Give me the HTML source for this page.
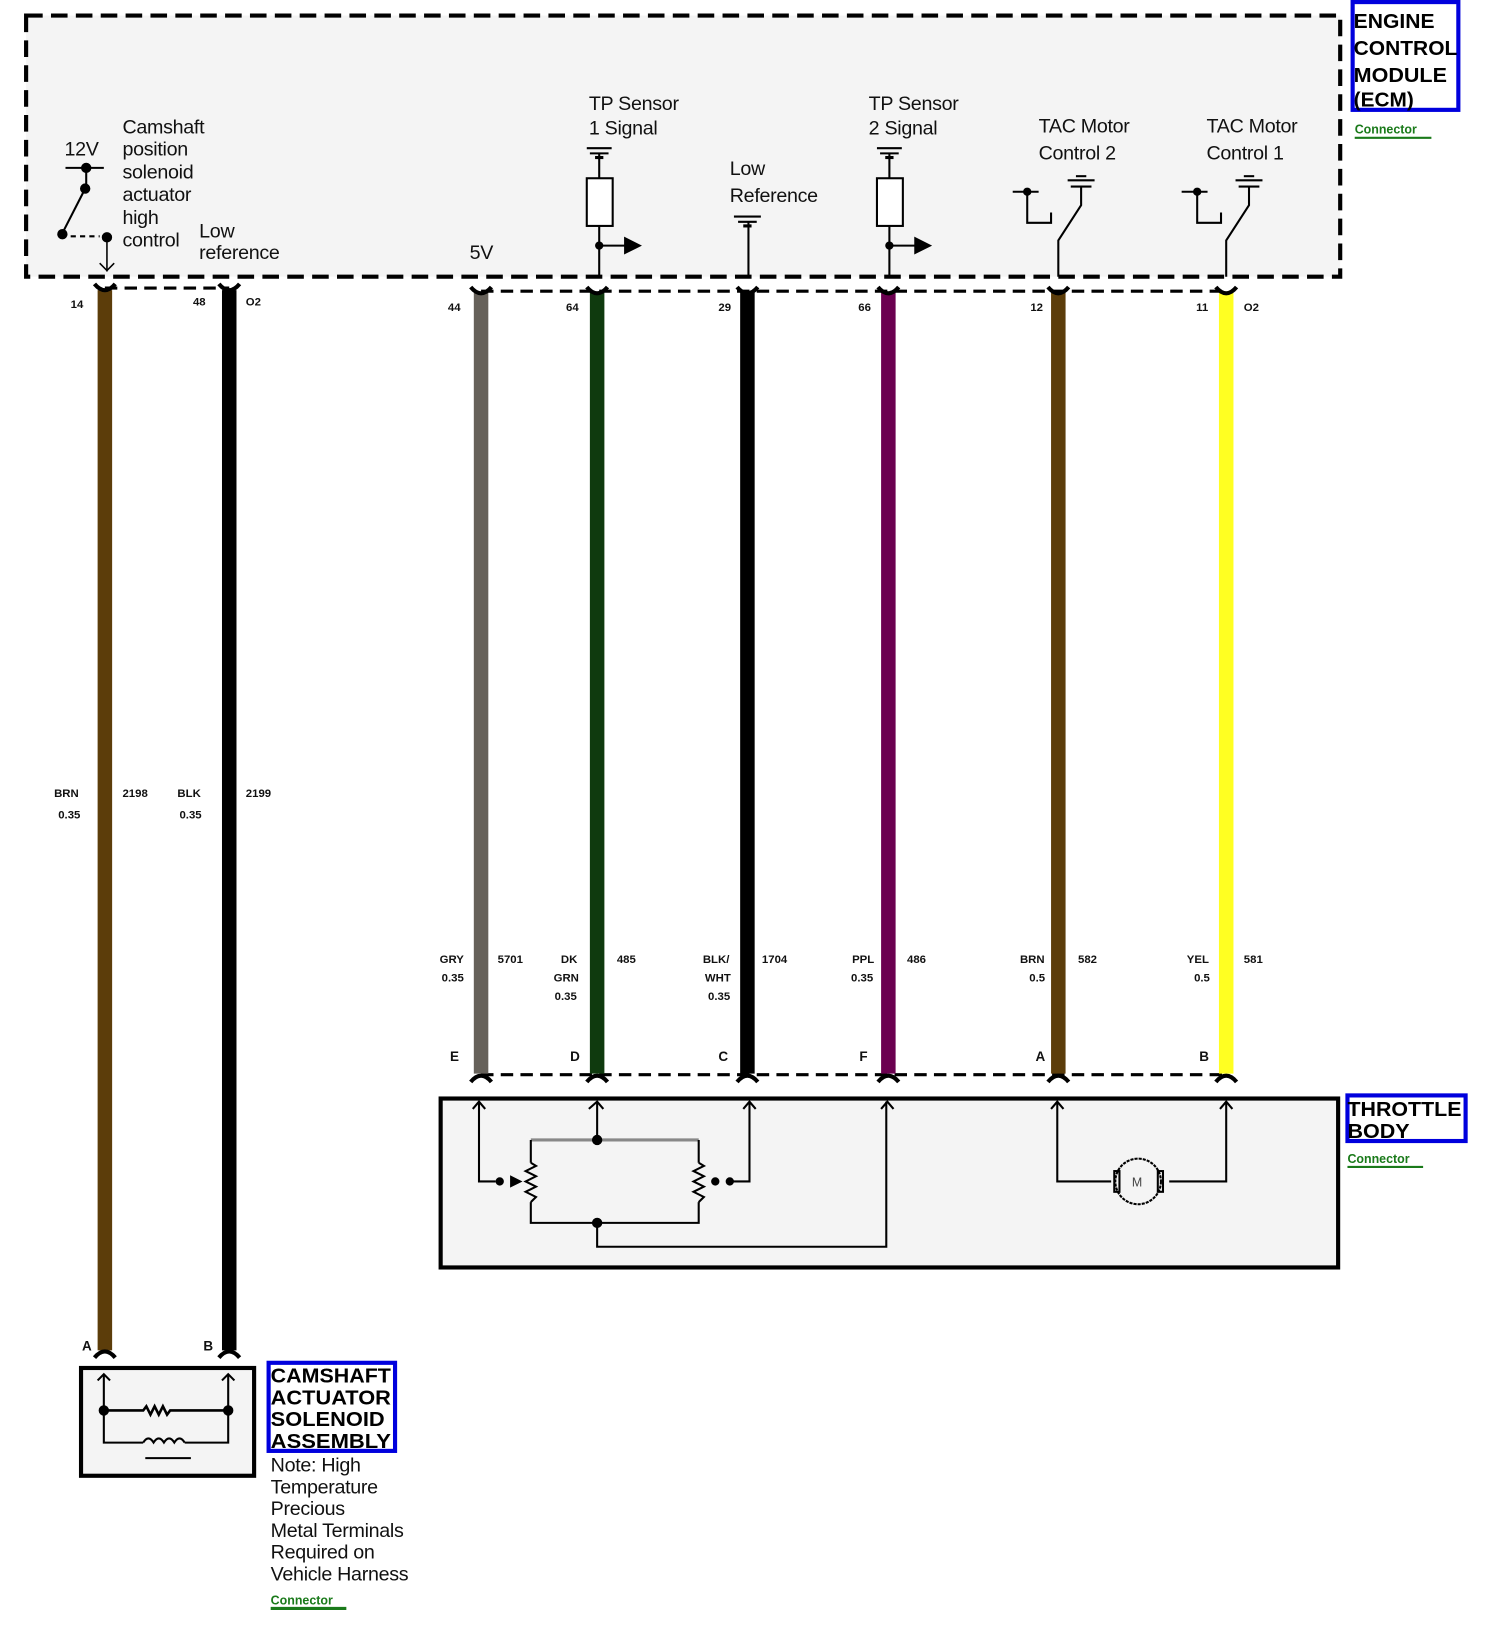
<!DOCTYPE html>
<html><head><meta charset="utf-8"><style>
html,body{margin:0;padding:0;background:#fff;}
svg{display:block;}
text{font-family:"Liberation Sans",sans-serif;}
.d{font-size:19px;fill:#111;letter-spacing:-0.3px;font-weight:500;}
.s{font-size:11px;font-weight:bold;fill:#111;}
.p{font-size:13px;font-weight:bold;fill:#111;}
.t{font-size:20px;font-weight:bold;fill:#000;}
.c{font-size:12px;fill:#1a7a1a;font-weight:bold;}
</style></head><body>
<svg width="1500" height="1625" viewBox="0 0 1447 1568" xmlns="http://www.w3.org/2000/svg">
<rect x="25" y="15" width="1268" height="252" fill="#f4f4f4" stroke="#000" stroke-width="4" stroke-dasharray="16,8"/>
<g stroke="#000" stroke-width="3" stroke-dasharray="12,7" fill="none">
<line x1="101" y1="278" x2="221" y2="278"/>
<line x1="464" y1="281" x2="1183" y2="281"/>
<line x1="464" y1="1037" x2="1183" y2="1037"/>
</g>
<g stroke-width="14">
<line x1="101" y1="280" x2="101" y2="1303" stroke="#5c3d0a"/>
<line x1="221" y1="280" x2="221" y2="1303" stroke="#000"/>
<line x1="464" y1="282" x2="464" y2="1036" stroke="#66615a"/>
<line x1="576" y1="282" x2="576" y2="1036" stroke="#0f3a0e"/>
<line x1="721" y1="282" x2="721" y2="1036" stroke="#000"/>
<line x1="857" y1="282" x2="857" y2="1036" stroke="#6b0050"/>
<line x1="1021" y1="282" x2="1021" y2="1036" stroke="#5c3d0a"/>
<line x1="1183" y1="282" x2="1183" y2="1036" stroke="#ffff22"/>
</g>
<g fill="none" stroke="#000" stroke-width="4">
<path d="M91 274 Q101 286 111 274"/><path d="M211 274 Q221 286 231 274"/>
<path d="M454 277 Q464 289 474 277"/><path d="M566 277 Q576 289 586 277"/>
<path d="M711 277 Q721 289 731 277"/><path d="M847 277 Q857 289 867 277"/>
<path d="M1011 277 Q1021 289 1031 277"/><path d="M1173 277 Q1183 289 1193 277"/>
<path d="M454 1044 Q464 1032 474 1044"/><path d="M566 1044 Q576 1032 586 1044"/>
<path d="M711 1044 Q721 1032 731 1044"/><path d="M847 1044 Q857 1032 867 1044"/>
<path d="M1011 1044 Q1021 1032 1031 1044"/><path d="M1173 1044 Q1183 1032 1193 1044"/>
<path d="M91 1310 Q101 1298 111 1310"/><path d="M211 1310 Q221 1298 231 1310"/>
</g>
<g stroke="#000" stroke-width="2" fill="#000">
<line x1="63" y1="162" x2="100" y2="162"/>
<circle cx="83" cy="162" r="4"/>
<line x1="83" y1="162" x2="83" y2="180"/>
<circle cx="82" cy="182" r="4"/>
<line x1="82" y1="182" x2="60" y2="225"/>
<circle cx="60" cy="226" r="4"/>
<line x1="68" y1="228" x2="96" y2="228" stroke-dasharray="5,4"/>
<circle cx="103" cy="229" r="4"/>
<line x1="103" y1="229" x2="103" y2="262" stroke-width="1.5"/>
<path d="M96 254 L103 261 L110 254" fill="none" stroke-width="1.5"/>
</g>
<g stroke="#000" stroke-width="2" fill="none">
<line x1="566" y1="143" x2="590" y2="143"/><line x1="569" y1="148" x2="587" y2="148"/><line x1="574" y1="152" x2="582" y2="152" stroke-width="3"/>
<line x1="578" y1="148" x2="578" y2="172"/>
<rect x="566" y="172" width="25" height="46" fill="#fff"/>
<line x1="578" y1="218" x2="578" y2="267"/>
<line x1="578" y1="237" x2="605" y2="237"/>
<circle cx="578" cy="237" r="3" fill="#000"/>
<path d="M603 230 L617 237 L603 244 Z" fill="#000"/>
<line x1="846" y1="143" x2="870" y2="143"/><line x1="849" y1="148" x2="867" y2="148"/><line x1="854" y1="152" x2="862" y2="152" stroke-width="3"/>
<line x1="858" y1="148" x2="858" y2="172"/>
<rect x="846" y="172" width="25" height="46" fill="#fff"/>
<line x1="858" y1="218" x2="858" y2="267"/>
<line x1="858" y1="237" x2="884" y2="237"/>
<circle cx="858" cy="237" r="3" fill="#000"/>
<path d="M883 230 L897 237 L883 244 Z" fill="#000"/>
<line x1="708" y1="209" x2="734" y2="209"/><line x1="712" y1="214" x2="730" y2="214"/><line x1="717" y1="218" x2="725" y2="218" stroke-width="3"/>
<line x1="722" y1="214" x2="722" y2="267"/>
<line x1="977" y1="185" x2="1002" y2="185"/><circle cx="991" cy="185" r="3" fill="#000"/>
<path d="M991 185 L991 215 L1014 215 L1014 205"/>
<line x1="1030" y1="174" x2="1056" y2="174"/><line x1="1033" y1="180" x2="1053" y2="180"/><line x1="1038" y1="170" x2="1048" y2="170"/>
<path d="M1043 180 L1043 198 L1021 232 L1021 267"/>
<line x1="1140" y1="185" x2="1165" y2="185"/><circle cx="1155" cy="185" r="3" fill="#000"/>
<path d="M1155 185 L1155 215 L1178 215 L1178 205"/>
<line x1="1192" y1="174" x2="1218" y2="174"/><line x1="1195" y1="180" x2="1215" y2="180"/><line x1="1200" y1="170" x2="1210" y2="170"/>
<path d="M1205 180 L1205 198 L1183 232 L1183 267"/>
</g>
<text class="d"><tspan x="118" y="129">Camshaft</tspan><tspan x="118" y="150">position</tspan><tspan x="118" y="172">solenoid</tspan><tspan x="118" y="194">actuator</tspan><tspan x="118" y="216">high</tspan><tspan x="118" y="238">control</tspan></text>
<text class="d" x="62" y="150">12V</text>
<text class="d"><tspan x="192" y="229">Low</tspan><tspan x="192" y="250">reference</tspan></text>
<text class="d" x="453" y="250">5V</text>
<text class="d"><tspan x="568" y="106">TP Sensor</tspan><tspan x="568" y="130">1 Signal</tspan></text>
<text class="d"><tspan x="704" y="169">Low</tspan><tspan x="704" y="195">Reference</tspan></text>
<text class="d"><tspan x="838" y="106">TP Sensor</tspan><tspan x="838" y="130">2 Signal</tspan></text>
<text class="d"><tspan x="1002" y="128">TAC Motor</tspan><tspan x="1002" y="154">Control 2</tspan></text>
<text class="d"><tspan x="1164" y="128">TAC Motor</tspan><tspan x="1164" y="154">Control 1</tspan></text>
<rect x="1305" y="2" width="102" height="104" fill="#fff" stroke="#0000dd" stroke-width="4"/>
<text class="t" x="1306" y="27" textLength="78" lengthAdjust="spacingAndGlyphs">ENGINE</text>
<text class="t" x="1306" y="53" textLength="100" lengthAdjust="spacingAndGlyphs">CONTROL</text>
<text class="t" x="1306" y="79" textLength="90" lengthAdjust="spacingAndGlyphs">MODULE</text>
<text class="t" x="1306" y="103" textLength="58" lengthAdjust="spacingAndGlyphs">(ECM)</text>
<text class="c" x="1307" y="129">Connector</text><line x1="1307" y1="133" x2="1381" y2="133" stroke="#1a7a1a" stroke-width="2"/>
<text class="s"><tspan x="68" y="297">14</tspan><tspan x="186" y="295">48</tspan><tspan x="237" y="295">O2</tspan><tspan x="432" y="300">44</tspan><tspan x="546" y="300">64</tspan><tspan x="693" y="300">29</tspan><tspan x="828" y="300">66</tspan><tspan x="994" y="300">12</tspan><tspan x="1154" y="300">11</tspan><tspan x="1200" y="300">O2</tspan></text>
<text class="s"><tspan x="52" y="769">BRN</tspan><tspan x="56" y="790">0.35</tspan><tspan x="118" y="769">2198</tspan><tspan x="171" y="769">BLK</tspan><tspan x="173" y="790">0.35</tspan><tspan x="237" y="769">2199</tspan></text>
<text class="s">
<tspan x="424" y="929">GRY</tspan><tspan x="426" y="947">0.35</tspan><tspan x="480" y="929">5701</tspan>
<tspan x="541" y="929">DK</tspan><tspan x="534" y="947">GRN</tspan><tspan x="535" y="965">0.35</tspan><tspan x="595" y="929">485</tspan>
<tspan x="678" y="929">BLK/</tspan><tspan x="680" y="947">WHT</tspan><tspan x="683" y="965">0.35</tspan><tspan x="735" y="929">1704</tspan>
<tspan x="822" y="929">PPL</tspan><tspan x="821" y="947">0.35</tspan><tspan x="875" y="929">486</tspan>
<tspan x="984" y="929">BRN</tspan><tspan x="993" y="947">0.5</tspan><tspan x="1040" y="929">582</tspan>
<tspan x="1145" y="929">YEL</tspan><tspan x="1152" y="947">0.5</tspan><tspan x="1200" y="929">581</tspan></text>
<text class="p"><tspan x="434" y="1024">E</tspan><tspan x="550" y="1024">D</tspan><tspan x="693" y="1024">C</tspan><tspan x="829" y="1024">F</tspan><tspan x="999" y="1024">A</tspan><tspan x="1157" y="1024">B</tspan><tspan x="79" y="1303">A</tspan><tspan x="196" y="1303">B</tspan></text>
<rect x="425" y="1060" width="866" height="163" fill="#f4f4f4" stroke="#000" stroke-width="4"/>
<g stroke="#000" stroke-width="2" fill="none">
<path d="M456 1070 L462 1063 L468 1070 M568 1070 L576 1063 L582 1070 M717 1070 L723 1063 L729 1070 M850 1070 L856 1063 L862 1070 M1014 1070 L1020 1063 L1026 1070 M1177 1070 L1183 1063 L1189 1070"/>
<path d="M462 1063 L462 1140 L478 1140"/>
<path d="M576 1063 L576 1100"/>
<path d="M512 1100 L674 1100" stroke="#888" stroke-width="3"/>
<path d="M512 1100 L512 1122 M512 1160 L512 1180 L674 1180 L674 1160 M674 1100 L674 1122"/>
<path d="M512 1122 l5 3 l-10 5 l10 5 l-10 5 l10 5 l-10 5 l10 5 l-5 5"/>
<path d="M674 1122 l5 3 l-10 5 l10 5 l-10 5 l10 5 l-10 5 l10 5 l-5 5"/>
<path d="M723 1063 L723 1140 L704 1140"/>
<path d="M576 1180 L576 1203 L855 1203 L855 1063"/>
<path d="M1020 1063 L1020 1140 L1072 1140 M1128 1140 L1183 1140 L1183 1063"/>
<circle cx="1098" cy="1140" r="22" stroke-dasharray="3,1"/>
<rect x="1075" y="1130" width="5" height="20"/><rect x="1117" y="1130" width="5" height="20"/>
</g>
<g fill="#000"><circle cx="482" cy="1140" r="4"/><path d="M492 1134 L504 1140 L492 1146Z"/><circle cx="704" cy="1140" r="4"/><circle cx="690" cy="1140" r="4"/><circle cx="576" cy="1100" r="5"/><circle cx="576" cy="1180" r="5"/></g>
<text x="1092" y="1145" font-size="12" fill="#444">M</text>
<rect x="1300" y="1057" width="114" height="44" fill="#fff" stroke="#0000dd" stroke-width="4"/>
<text class="t" x="1300" y="1077" textLength="110" lengthAdjust="spacingAndGlyphs">THROTTLE</text>
<text class="t" x="1300" y="1098" textLength="60" lengthAdjust="spacingAndGlyphs">BODY</text>
<text class="c" x="1300" y="1122">Connector</text><line x1="1300" y1="1126" x2="1373" y2="1126" stroke="#1a7a1a" stroke-width="2"/>
<rect x="78" y="1320" width="167" height="104" fill="#f4f4f4" stroke="#000" stroke-width="4"/>
<g stroke="#000" stroke-width="2" fill="none">
<path d="M94 1332 L100 1326 L106 1332 M214 1332 L220 1326 L226 1332"/>
<path d="M100 1326 L100 1392 L138 1392 M178 1392 L220 1392 L220 1326"/>
<path d="M100 1361 L138 1361 l3 -4 l4 8 l4 -8 l4 8 l4 -8 l4 8 l3 -4 L220 1361" stroke-width="2.5"/>
<path d="M138 1392 q5 -8 10 0 q5 -8 10 0 q5 -8 10 0 q5 -8 10 0"/>
<line x1="140" y1="1407" x2="184" y2="1407"/>
</g>
<circle cx="100" cy="1361" r="5"/><circle cx="220" cy="1361" r="5"/>
<rect x="259" y="1315" width="122" height="85" fill="#fff" stroke="#0000dd" stroke-width="4"/>
<text class="t" x="261" y="1334" textLength="116" lengthAdjust="spacingAndGlyphs">CAMSHAFT</text>
<text class="t" x="261" y="1355" textLength="116" lengthAdjust="spacingAndGlyphs">ACTUATOR</text>
<text class="t" x="261" y="1376" textLength="110" lengthAdjust="spacingAndGlyphs">SOLENOID</text>
<text class="t" x="261" y="1397" textLength="116" lengthAdjust="spacingAndGlyphs">ASSEMBLY</text>
<text class="d"><tspan x="261" y="1420">Note: High</tspan><tspan x="261" y="1441">Temperature</tspan><tspan x="261" y="1462">Precious</tspan><tspan x="261" y="1483">Metal Terminals</tspan><tspan x="261" y="1504">Required on</tspan><tspan x="261" y="1525">Vehicle Harness</tspan></text>
<text class="c" x="261" y="1548">Connector</text><line x1="261" y1="1552" x2="334" y2="1552" stroke="#1a7a1a" stroke-width="3"/>
</svg>
</body></html>
